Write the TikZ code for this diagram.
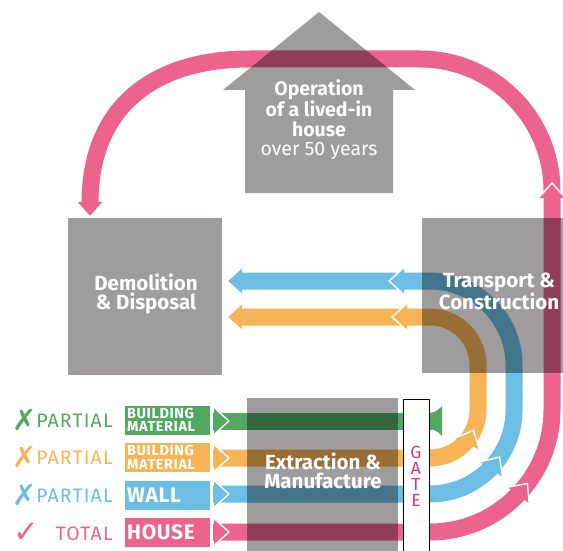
\documentclass[tikz,border=0pt]{standalone}
\usepackage{fontspec}
\setmainfont{Fira Sans}
\newfontfamily\symf{DejaVu Sans}
\usetikzlibrary{calc}
\definecolor{pk}{RGB}{236,100,142}
\definecolor{bl}{RGB}{108,190,228}
\definecolor{og}{RGB}{246,180,86}
\definecolor{gr}{RGB}{82,168,96}
\definecolor{gy}{RGB}{158,156,157}
\definecolor{gatec}{RGB}{226,52,120}
\tikzset{
  band/.style={line width=17pt, draw=#1},
  greybox/.style={fill=gy},
  boxtext/.style={text=white, font=\bfseries\fontsize{20.5}{19.5}\selectfont, align=center, inner sep=0pt},
  legtext/.style={font=\fontsize{19.5}{19.5}\selectfont\addfontfeatures{LetterSpace=6}, anchor=base east, inner sep=0pt},
  legmark/.style={font=\symf\fontsize{29}{29}\selectfont, anchor=base, inner sep=0pt},
  labbox/.style={fill=#1, text=white, anchor=west, minimum width=85pt, minimum height=29pt, inner sep=2pt, text width=81pt, align=left},
}
\newcommand\arrhead[3]{%
  \fill[#3] (#1) -- ($(#1)+(#2+180:15)+(#2+90:13.5)$) -- ($(#1)+(#2+180:15)+(#2-90:13.5)$) -- cycle;
  \draw[white, line width=1.4pt] ($(#1)+(#2+180:15)+(#2+90:13.5)$) -- (#1) -- ($(#1)+(#2+180:15)+(#2-90:13.5)$);
}
\begin{document}
\begin{tikzpicture}[x=1pt,y=-1pt]
\useasboundingbox (0,0) rectangle (563,551);
% centres of the curves
\coordinate (C1) at (430,410);
\coordinate (C2) at (430,365);
% bands
\draw[band=pk] (213,532) -- (430,532) arc[start angle=90,end angle=0,radius=122] -- (552,191)
  arc[start angle=0,end angle=-90,radius=132] -- (250,59) .. controls (150,59) and (90,110) .. (90,203);
\draw[band=bl] (213,494) -- (430,494) arc[start angle=90,end angle=0,radius=84] -- (514,365)
  arc[start angle=0,end angle=-90,radius=84] -- (240,281);
\draw[band=og] (213,458) -- (430,458) arc[start angle=90,end angle=0,radius=48] -- (478,365)
  arc[start angle=0,end angle=-90,radius=48] -- (240,317);
\draw[band=gr] (213,421) -- (432,421);
\fill[gr] (429,413) .. controls (436,413) and (440,408) .. (442,406) -- (442,436) .. controls (440,434) and (436,429) .. (429,429) -- cycle;
% arrow heads
\arrhead{229,421}{0}{gr}
\arrhead{229,458}{0}{og}
\arrhead{229,494}{0}{bl}
\arrhead{229,532}{0}{pk}
\coordinate (ho) at ($(C1)+(25:48)$);
\coordinate (hb) at ($(C1)+(34:84)$);
\coordinate (hp) at ($(C1)+(37:122)$);
\arrhead{ho}{-65}{og}
\arrhead{hb}{-56}{bl}
\arrhead{hp}{-53}{pk}
\arrhead{552,183}{-90}{pk}
\arrhead{389,281}{180}{bl}
\arrhead{392,317}{180}{og}
\arrhead{227,281}{180}{bl}
\arrhead{227,317}{180}{og}
\arrhead{90,217}{90}{pk}
% grey boxes
\begin{scope}[blend mode=multiply]
  \fill[greybox] (68,218) rectangle (222,375);
  \fill[greybox] (422,218) rectangle (566,373);
  \fill[greybox] (247,398) rectangle (398,556);
  \fill[greybox] (245,193) -- (245,90) -- (223,90) -- (319,12) -- (415,90) -- (393,90) -- (393,193) -- cycle;
\end{scope}
% gate
\draw[fill=white, line width=0.6pt] (403,399) rectangle (429,560);
\node[text=gatec, font=\fontsize{17.5}{16}\selectfont, align=center, inner sep=0pt] (gate) at (416,476) {G\\A\\T\\E};
% texts
\node[boxtext] (demo) at (146,294) {Demolition\\\& Disposal};
\node[boxtext] (trans) at (499,291) {Transport \&\\Construction};
\node[boxtext] (extr) at (323,471) {Extraction \&\\Manufacture};
\node[boxtext, font=\bfseries\fontsize{19.5}{19.5}\selectfont] (oper) at (319,120) {Operation\\of a lived-in\\house\\{\mdseries over 50 years}};
% legend
\node[labbox=gr, font=\bfseries\fontsize{14.5}{13.5}\selectfont\addfontfeatures{LetterSpace=4}] (l1) at (125,420) {BUILDING\\MATERIAL};
\node[labbox=og, font=\bfseries\fontsize{14.5}{13.5}\selectfont\addfontfeatures{LetterSpace=4}] (l2) at (125,457.5) {BUILDING\\MATERIAL};
\node[labbox=bl, font=\bfseries\fontsize{21}{21}\selectfont\addfontfeatures{LetterSpace=3}] (l3) at (125,495) {WALL};
\node[labbox=pk, font=\bfseries\fontsize{21}{21}\selectfont\addfontfeatures{LetterSpace=3}] (l4) at (125,532.5) {HOUSE};
\node[legtext, text=gr] (p1) at (113,427) {PARTIAL};
\node[legtext, text=og] (p2) at (113,464) {PARTIAL};
\node[legtext, text=bl] (p3) at (113,502) {PARTIAL};
\node[legtext, text=pk] (p4) at (113,540) {TOTAL};
\node[legmark, text=gr] (m1) at (25,430) {✗};
\node[legmark, text=og] (m2) at (25,467) {✗};
\node[legmark, text=bl] (m3) at (25,505) {✗};
\node[legmark, text=pk, font=\symf\fontsize{31}{31}\selectfont] (m4) at (26,542) {✓};
\end{tikzpicture}
\end{document}
